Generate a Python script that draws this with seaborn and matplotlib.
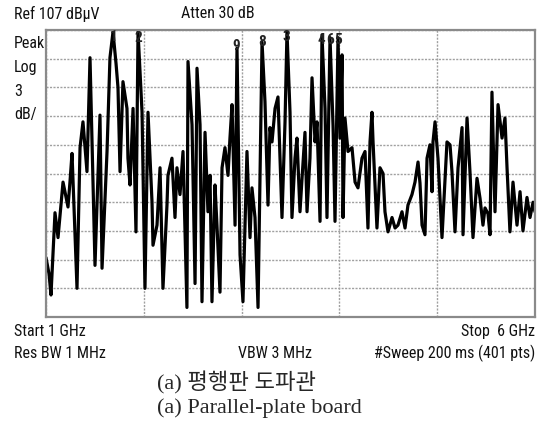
import numpy as np
import pandas as pd
import matplotlib
matplotlib.use("Agg")
import matplotlib.pyplot as plt
import seaborn as sns

# trace (GHz, dBuV)
freq_ghz = [1.000, 1.031, 1.051, 1.092, 1.123, 1.174, 1.225, 1.245, 1.266, 1.317,
            1.348, 1.378, 1.419, 1.450, 1.481, 1.501, 1.552, 1.573, 1.624, 1.654,
            1.685, 1.716, 1.736, 1.757, 1.787, 1.828, 1.838, 1.859, 1.890, 1.920,
            1.941, 1.982, 2.012, 2.043, 2.084, 2.094, 2.135, 2.166, 2.196, 2.237,
            2.247, 2.288, 2.319, 2.339, 2.370, 2.401, 2.441, 2.452, 2.493, 2.524,
            2.544, 2.575, 2.595, 2.626, 2.656, 2.677, 2.697, 2.728, 2.748, 2.779,
            2.800, 2.830, 2.861, 2.881, 2.902, 2.933, 2.953, 2.984, 3.014, 3.055,
            3.086, 3.106, 3.137, 3.168, 3.209, 3.239, 3.270, 3.290, 3.311, 3.342,
            3.372, 3.413, 3.444, 3.464, 3.495, 3.515, 3.546, 3.566, 3.597, 3.618,
            3.648, 3.669, 3.699, 3.720, 3.751, 3.771, 3.802, 3.822, 3.853, 3.873,
            3.904, 3.935, 3.955, 3.986, 4.006, 4.027, 4.037, 4.057, 4.088, 4.129,
            4.160, 4.190, 4.231, 4.262, 4.292, 4.313, 4.333, 4.344, 4.384, 4.415,
            4.446, 4.466, 4.497, 4.538, 4.569, 4.599, 4.640, 4.671, 4.701, 4.742,
            4.773, 4.804, 4.824, 4.845, 4.875, 4.896, 4.926, 4.947, 4.957, 4.978,
            5.008, 5.049, 5.100, 5.131, 5.151, 5.182, 5.213, 5.254, 5.264, 5.305,
            5.335, 5.366, 5.407, 5.438, 5.468, 5.489, 5.519, 5.540, 5.560, 5.591,
            5.622, 5.663, 5.693, 5.714, 5.744, 5.775, 5.816, 5.847, 5.877, 5.918,
            5.949, 5.980, 6.000]
level_dbuv = [83.2, 81.5, 79.3, 87.9, 85.3, 91.1, 88.5, 91.1, 94.1, 80.0,
              94.7, 97.4, 92.2, 104.1, 91.1, 82.4, 98.1, 82.1, 94.3, 104.1,
              106.8, 103.5, 101.0, 92.2, 101.6, 98.8, 93.6, 90.8, 98.8, 85.9,
              106.8, 98.4, 80.0, 98.4, 89.0, 84.5, 86.6, 92.6, 80.0, 88.7,
              91.8, 93.6, 87.4, 92.6, 89.8, 94.3, 78.0, 103.7, 97.1, 80.5,
              103.0, 97.1, 78.6, 96.3, 88.0, 91.8, 78.6, 90.8, 86.6, 79.6,
              92.6, 94.7, 91.8, 95.7, 99.2, 86.6, 105.1, 83.5, 78.6, 94.3,
              85.3, 90.5, 87.4, 78.0, 105.7, 99.5, 88.7, 96.8, 95.3, 98.8,
              100.0, 87.4, 97.4, 106.8, 98.4, 87.4, 93.6, 95.7, 88.0, 91.5,
              96.3, 88.0, 93.6, 102.0, 95.3, 97.4, 87.0, 106.5, 98.8, 87.4,
              106.2, 97.0, 87.0, 106.2, 95.7, 104.4, 87.4, 97.8, 94.3, 94.7,
              91.1, 90.5, 93.6, 94.3, 86.3, 95.3, 98.4, 95.3, 86.3, 92.6,
              92.0, 88.0, 85.9, 87.4, 86.3, 86.6, 88.0, 86.3, 88.7, 89.8,
              91.1, 93.2, 91.0, 86.6, 85.6, 93.6, 95.0, 90.1, 95.3, 97.4,
              93.6, 85.3, 95.3, 95.0, 92.2, 85.9, 92.6, 96.8, 85.6, 97.8,
              92.2, 85.3, 91.5, 89.4, 86.6, 88.4, 87.8, 85.6, 100.5, 88.0,
              99.2, 95.7, 97.8, 92.6, 85.9, 91.1, 86.6, 90.1, 86.0, 89.5,
              87.4, 89.0, 88.0]

# marker labels and where they sit
marker_labels = ["1", "2", "9", "8", "3", "4", "6", "5"]
marker_freq = [1.690, 1.946, 2.945, 3.205, 3.462, 3.810, 3.902, 3.985]
marker_level = [106.3, 106.2, 105.3, 105.7, 106.3, 106.0, 106.0, 106.0]

df = pd.DataFrame({"freq": freq_ghz, "level": level_dbuv})

sns.set_style("white")
plt.rcParams['font.family'] = ['Roboto Condensed', 'Liberation Sans Narrow', 'DejaVu Sans']

fig = plt.figure(figsize=(5.43, 4.4), dpi=100)
ax = fig.add_axes([46 / 543, 1 - 317 / 440, 489 / 543, 287 / 440])

sns.lineplot(data=df, x="freq", y="level", color="black", linewidth=2.3,
             sort=False, estimator=None, ax=ax)

for lab, f, lv in zip(marker_labels, marker_freq, marker_level):
    ax.text(f, lv, lab, ha="center", va="center", fontsize=11,
            fontweight="bold", color="#222222", zorder=5)

ax.set_xlim(1, 6)
ax.set_ylim(77, 107)
ax.set_xticks(np.arange(1, 7, 1))
ax.set_yticks(np.arange(77, 108, 3))
ax.set_xticklabels([])
ax.set_yticklabels([])
ax.tick_params(length=0)
ax.set_xlabel("")
ax.set_ylabel("")
ax.grid(True, color="#a0a0a0", linewidth=1, linestyle=(0, (1.5, 1)))
ax.set_axisbelow(True)
for sp in ax.spines.values():
    sp.set_color("#8a8a8a")
    sp.set_linewidth(1.6)

txt = dict(fontsize=11.5, color="#111111", fontstretch="condensed")
fig.text(14 / 543, 1 - 14 / 440, "Ref 107 dBµV", va="center", ha="left", **txt)
fig.text(181 / 543, 1 - 14 / 440, "Atten 30 dB", va="center", ha="left", **txt)
for yy, s in zip([44, 67, 91, 115], ["Peak", "Log", "3", "dB/"]):
    fig.text(14 / 543, 1 - yy / 440, s, va="center", ha="left", **txt)
fig.text(14 / 543, 1 - 331 / 440, "Start 1 GHz", va="center", ha="left", **txt)
fig.text(535 / 543, 1 - 331 / 440, "Stop  6 GHz", va="center", ha="right", **txt)
fig.text(14 / 543, 1 - 353 / 440, "Res BW 1 MHz", va="center", ha="left", **txt)
fig.text(238 / 543, 1 - 353 / 440, "VBW 3 MHz", va="center", ha="left", **txt)
fig.text(535 / 543, 1 - 353 / 440, "#Sweep 200 ms (401 pts)", va="center", ha="right", **txt)

cap = ['Liberation Serif', 'Noto Sans CJK KR']
fig.text(157 / 543, 1 - 383 / 440, "(a) 평행판 도파관", va="center", ha="left",
         fontsize=16, family=cap)
fig.text(157 / 543, 1 - 408 / 440, "(a) Parallel-plate board", va="center", ha="left",
         fontsize=16, family=cap)

fig.savefig("out.png", dpi=100)
